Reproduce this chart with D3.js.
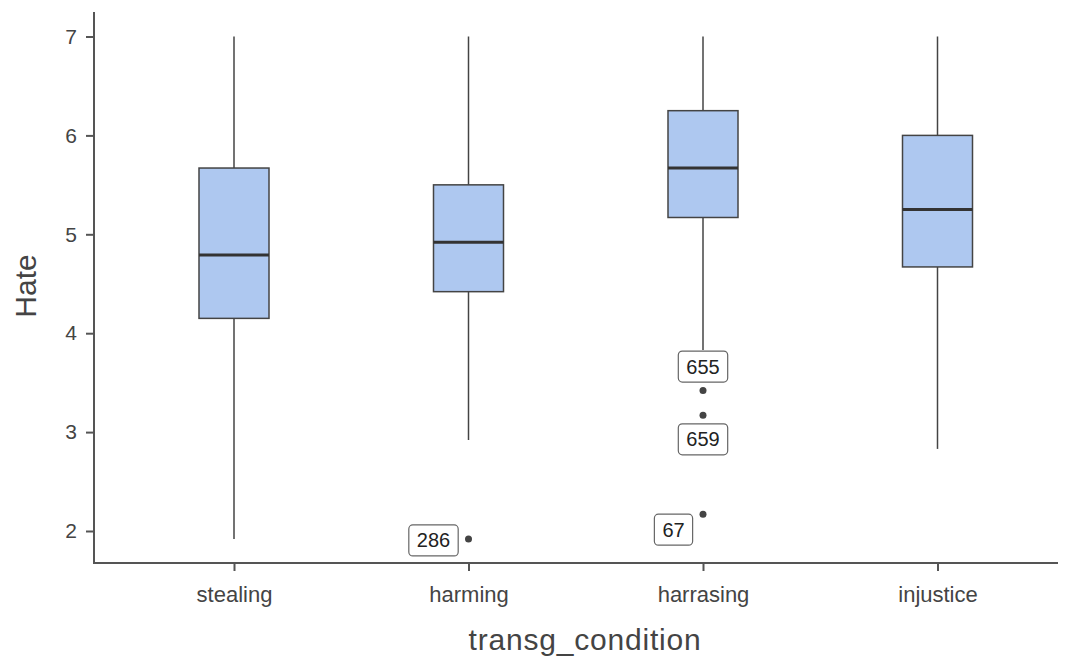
<!DOCTYPE html>
<html>
<head>
<meta charset="utf-8">
<script src="https://cdn.jsdelivr.net/npm/d3@7"></script>
<style>
  body { margin: 0; background: #fff; }
  svg { display: block; font-family: "Liberation Sans", Arial, sans-serif; }
</style>
</head>
<body>
<svg id="chart" width="1066" height="663"></svg>
<script>
// Box summaries per condition
const categories = ["stealing", "harming", "harrasing", "injustice"];
const whiskerLow = [1.92, 2.92, 3.83, 2.83];
const q1 = [4.15, 4.42, 5.17, 4.67];
const median = [4.79, 4.92, 5.67, 5.25];
const q3 = [5.67, 5.50, 6.25, 6.00];
const whiskerHigh = [7, 7, 7, 7];

// Outliers with their case ids
const outlierCategory = ["harming", "harrasing", "harrasing", "harrasing"];
const outlierValue = [1.92, 3.42, 3.17, 2.17];
const outlierId = ["286", "655", "659", "67"];
// label placement relative to the point: [dx, dy] in px
const labelOffset = [[-35, 1.5], [0, -24], [0, 24], [-29.5, 15.5]];

const yTicks = [2, 3, 4, 5, 6, 7];

const svg = d3.select("#chart");
const axisLeftX = 94, axisBottomY = 563, axisRightX = 1058, axisTopY = 12;

const y = d3.scaleLinear().domain([2, 7]).range([531, 36.5]);
const x = d3.scalePoint().domain(categories).range([234, 937.5]);
const boxW = 70;

const axisColor = "#555";
const textColor = "#444";
const fontFamily = "Liberation Sans, Arial, sans-serif";

// Boxes
const boxes = categories.map((c, i) => ({
  c, lo: whiskerLow[i], q1: q1[i], med: median[i], q3: q3[i], hi: whiskerHigh[i]
}));
const g = svg.append("g");
boxes.forEach(b => {
  const cx = x(b.c);
  g.append("line").attr("x1", cx).attr("x2", cx)
    .attr("y1", y(b.hi)).attr("y2", y(b.q3))
    .attr("stroke", "#444").attr("stroke-width", 1.5);
  g.append("line").attr("x1", cx).attr("x2", cx)
    .attr("y1", y(b.q1)).attr("y2", y(b.lo))
    .attr("stroke", "#444").attr("stroke-width", 1.5);
  g.append("rect").attr("x", cx - boxW / 2).attr("width", boxW)
    .attr("y", y(b.q3)).attr("height", y(b.q1) - y(b.q3))
    .attr("fill", "#aec8f0").attr("stroke", "#444").attr("stroke-width", 1.5);
  g.append("line").attr("x1", cx - boxW / 2).attr("x2", cx + boxW / 2)
    .attr("y1", y(b.med)).attr("y2", y(b.med))
    .attr("stroke", "#333").attr("stroke-width", 3);
});

// Outlier points and labels
outlierValue.forEach((v, i) => {
  const px = x(outlierCategory[i]), py = y(v);
  g.append("circle").attr("cx", px).attr("cy", py).attr("r", 3.5).attr("fill", "#444");
  const lx = px + labelOffset[i][0], ly = py + labelOffset[i][1];
  const lab = g.append("g");
  const rect = lab.append("rect");
  const t = lab.append("text").attr("x", lx).attr("y", ly)
    .attr("text-anchor", "middle").attr("dominant-baseline", "central")
    .attr("font-size", 20).attr("fill", "#222").text(outlierId[i]);
  const bb = t.node().getBBox();
  rect.attr("x", bb.x - 8).attr("y", ly - 15.5).attr("width", bb.width + 16).attr("height", 31)
    .attr("rx", 4).attr("fill", "#fff").attr("stroke", "#666").attr("stroke-width", 1.2);
});

// Axes lines
svg.append("line").attr("x1", axisLeftX).attr("x2", axisLeftX)
  .attr("y1", axisTopY).attr("y2", axisBottomY)
  .attr("stroke", axisColor).attr("stroke-width", 2);
svg.append("line").attr("x1", axisLeftX - 1).attr("x2", axisRightX)
  .attr("y1", axisBottomY).attr("y2", axisBottomY)
  .attr("stroke", axisColor).attr("stroke-width", 2);

// Y axis ticks
const yAxis = svg.append("g").attr("transform", `translate(${axisLeftX},0)`)
  .call(d3.axisLeft(y).tickValues(yTicks).tickFormat(d3.format("d")).tickSize(8).tickPadding(9));
yAxis.select(".domain").remove();
yAxis.selectAll(".tick line").attr("stroke", axisColor).attr("stroke-width", 2);
yAxis.selectAll(".tick text").attr("font-size", 21).attr("fill", textColor)
  .attr("font-family", fontFamily);

// X axis ticks
const xAxis = svg.append("g").attr("transform", `translate(0,${axisBottomY})`)
  .call(d3.axisBottom(x).tickSize(8).tickPadding(15));
xAxis.select(".domain").remove();
xAxis.selectAll(".tick line").attr("stroke", axisColor).attr("stroke-width", 2);
xAxis.selectAll(".tick text").attr("font-size", 22).attr("fill", textColor)
  .attr("font-family", fontFamily);

// Axis titles
svg.append("text").attr("x", 585).attr("y", 650)
  .attr("text-anchor", "middle")
  .attr("font-size", 30).attr("letter-spacing", "0.8px")
  .attr("fill", textColor).text("transg_condition");
svg.append("text").attr("transform", "translate(36,286) rotate(-90)")
  .attr("text-anchor", "middle")
  .attr("font-size", 30).attr("fill", textColor).text("Hate");
</script>
</body>
</html>
